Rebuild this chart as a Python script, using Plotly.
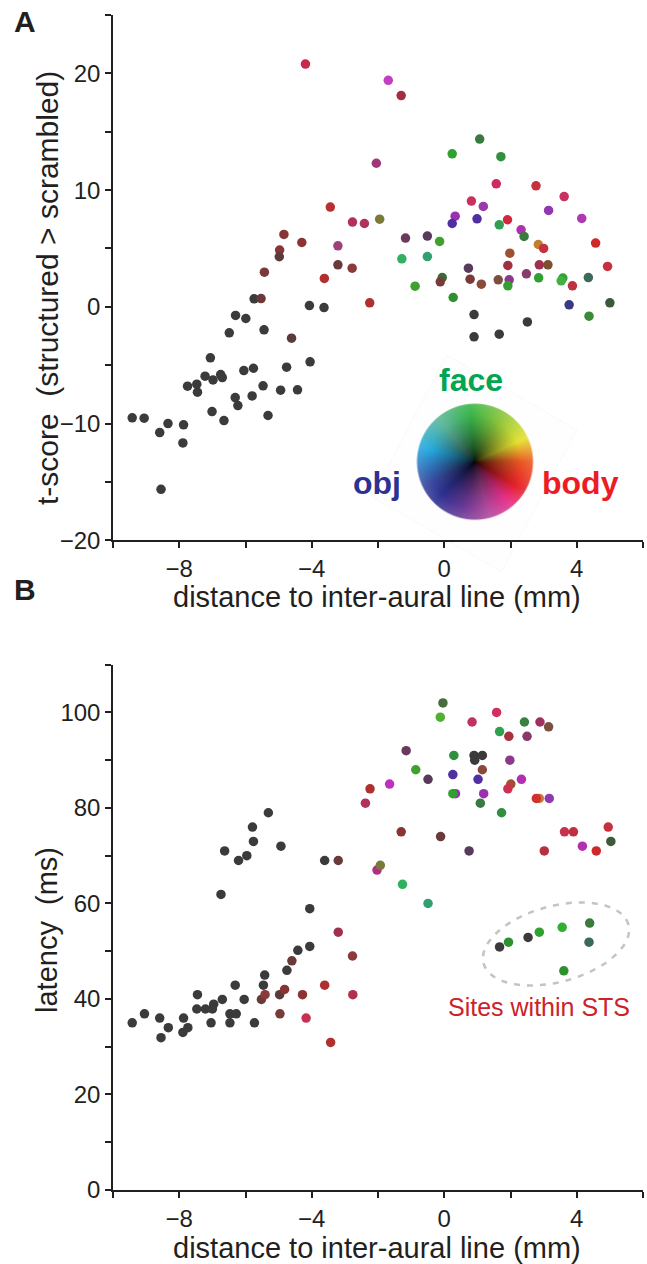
import base64, struct, zlib
import numpy as np
import plotly.graph_objects as go

# ---------------- data ----------------
DK = "#3b3b3b"
# Panel A: distance (mm) vs t-score
a_x = [-5.74, -4.07, -3.63, -6.30, -5.99, -6.49, -5.44,
       -7.06, -6.05, -5.76, -4.76, -4.05, -7.22, -6.98, -6.75, -6.70, -7.75, -7.47, -7.45,
       -5.47, -4.94, -4.43, -6.31, -5.80, -6.23, -7.01, -6.65, -5.32, -9.42, -9.06, -8.34,
       -7.87, -8.59, -7.89, -8.55, 0.90, 2.51, 0.90, 1.66,
       -4.19, -2.05, -3.44, -2.77, -2.41, -1.95, -4.84, -4.30, -4.97, -4.98, -3.21, -3.21,
       -2.78, -5.43, -3.62, -5.53, -2.25, -4.61,
       -1.69, -1.30, 1.07, 0.24, 1.71, 1.57, 2.77, 3.62, 0.82, 1.18, 3.15, 4.15, 0.33, 0.24,
       0.99, 1.91, 1.66, 2.32, 2.41, -1.17, -0.51, -0.14, 2.84, 3.00, 4.57, -1.28, -0.51,
       1.98, 1.92, 2.87, 3.13, 4.93, 0.73, 2.48, -0.06, -0.12, 0.78, 1.12, 1.63, 1.96, 1.92,
       2.85, 3.58, 3.53, 3.87, 4.35, -0.88, 0.27, 3.77, 5.00, 4.37]
a_y = [0.69, 0.11, -0.06, -0.74, -1.00, -2.23, -1.97,
       -4.37, -5.46, -5.26, -5.17, -4.71, -5.94, -6.26, -5.80, -6.06, -6.80, -6.63, -7.31,
       -6.77, -7.14, -7.11, -7.77, -7.63, -8.46, -8.97, -9.74, -9.31, -9.51, -9.54, -10.0,
       -10.11, -10.77, -11.66, -15.63, -0.66, -1.29, -2.57, -2.34,
       20.8, 12.3, 8.55, 7.26, 7.14, 7.51, 6.20, 5.51, 4.86, 4.29, 5.23, 3.60,
       3.31, 2.97, 2.43, 0.71, 0.34, -2.69,
       19.4, 18.1, 14.37, 13.11, 12.86, 10.54, 10.37, 9.45, 9.06, 8.60, 8.26, 7.57, 7.77, 7.14,
       7.54, 7.46, 7.03, 6.60, 6.03, 5.89, 6.06, 5.60, 5.34, 5.00, 5.46, 4.11, 4.31,
       4.60, 3.54, 3.60, 3.60, 3.46, 3.31, 2.83, 2.51, 2.14, 2.37, 1.94, 2.31, 2.31, 1.80,
       2.49, 2.46, 2.23, 1.80, 2.51, 1.77, 0.80, 0.17, 0.34, -0.80]
a_color = [DK] * 39 + [
    "#c8284a", "#a0357a", "#b83030", "#b0305e", "#b0305e", "#7a7a3a", "#8a3535", "#8e3333",
    "#8a3535", "#5a3a3a", "#a0407a", "#6a3a3a", "#8a3a3a", "#7a3a3a", "#b03030", "#6a3a3a",
    "#b03030", "#5a3a3a",
    "#c040c0", "#a03040", "#3a7a40", "#30a030", "#309040", "#d02860", "#c83040", "#c83060",
    "#c83060", "#9a3aaa", "#9038b0", "#b038b0", "#9a30b0", "#5030a0", "#5030a0", "#d02840",
    "#30a050", "#b030b0", "#3a7a40", "#6a3a5a", "#5a3a5a", "#40a030", "#c08030", "#c83040",
    "#d02828", "#30b060", "#30a070", "#a05030", "#a03040", "#a03050", "#7a5030", "#c83040",
    "#5a3a5a", "#8a3a6a", "#3a6a3a", "#7a3a3a", "#7a3a3a", "#8a4a3a", "#7a5040", "#8a3a8a",
    "#30a030", "#30a030", "#30a030", "#40b040", "#c03040", "#3a6a5a", "#40a030", "#309030",
    "#3a3a80", "#3a5a3a", "#3a8a3a"]

# Panel B: distance (mm) vs latency (ms)
b_x = [-5.31, -5.79, -5.76, -6.63, -6.21, -5.96, -4.93, -3.61, -6.74, -4.06, -4.42, -4.06,
       -4.75, -5.42, -5.46, -6.31, -7.45, -6.70, -6.04, -6.96, -7.47, -7.21, -7.00, -6.47,
       -6.28, -7.04, -6.47, -5.73, -9.05, -9.42, -8.59, -8.33, -8.55, -7.87, -7.89, -7.74,
       0.90, 1.15, 0.92, 1.67, 2.53,
       -3.20, -3.20, -2.24, -2.38, -1.65, -1.30, -2.03, -1.93, -1.26, -0.49, -4.60, -2.77,
       -5.52, -5.41, -4.97, -4.82, -4.28, -4.96, -3.61, -4.17, -2.76, -3.43,
       -0.04, -0.12, 1.58, 0.84, 2.42, 2.89, 3.15, 1.67, 1.95, 2.50, -1.15, 0.29, 1.98,
       -0.86, 1.15, -0.49, 0.26, 1.02, 2.33, 2.01, 1.92, 0.34, 0.26, 1.19, 1.09, 1.73,
       2.87, 2.78, 3.17, -0.11, 0.75, 3.02, 3.63, 3.90, 4.95, 4.17, 4.59, 5.03,
       1.94, 2.87, 3.56, 4.39, 4.37, 3.61]
b_y = [79.0, 76.0, 73.0, 71.0, 69.0, 70.0, 72.0, 69.0, 61.9, 58.9, 50.2, 51.0,
       46.0, 45.0, 42.9, 42.9, 40.9, 39.9, 39.9, 38.9, 37.9, 37.9, 37.9, 36.9,
       36.9, 35.0, 35.0, 35.0, 36.9, 35.0, 36.0, 34.0, 31.9, 36.0, 33.0, 34.0,
       91.0, 91.0, 90.0, 50.9, 52.9,
       69.0, 54.0, 84.0, 81.0, 85.0, 75.0, 67.0, 68.0, 64.0, 60.0, 48.0, 49.0,
       39.9, 40.9, 40.9, 42.0, 40.9, 36.9, 42.9, 36.0, 40.9, 30.9,
       102.0, 99.0, 100.0, 98.0, 98.0, 98.0, 97.0, 96.0, 95.0, 95.0, 92.0, 91.0, 90.0,
       88.0, 88.0, 86.0, 87.0, 86.0, 86.0, 85.0, 84.0, 83.0, 83.0, 83.0, 81.0, 79.0,
       82.0, 82.0, 82.0, 74.0, 71.0, 71.0, 75.0, 75.0, 76.0, 72.0, 71.0, 73.0,
       51.9, 54.0, 55.0, 55.9, 51.9, 45.9]
b_color = [DK] * 41 + [
    "#6a3a3a", "#a03050", "#b03030", "#b03060", "#c030c0", "#8a3535", "#b03080", "#7a7a3a",
    "#30b060", "#30a070", "#6a3a3a", "#8a3a3a",
    "#6a3a3a", "#8a3a3a", "#5a3a3a", "#8a3535", "#8e3333", "#7a3a3a", "#b03030", "#c83050",
    "#b03050", "#b03030",
    "#4a6a40", "#50b030", "#d03060", "#c03060", "#3a8040", "#a03060", "#7a5040", "#30a050",
    "#a83040", "#8a3a6a", "#6a3a5a", "#309040", "#8a3a8a",
    "#40a030", "#8a4a3a", "#5a3a5a", "#5030a0", "#5030a0", "#b030b0", "#a05030", "#d03050",
    "#9a30b0", "#30a030", "#9a30b0", "#3a7a40", "#309040",
    "#c08030", "#d03030", "#9038b0", "#6a3a3a", "#5a3a5a", "#b83040", "#c83050", "#c03040",
    "#c83040", "#b030b0", "#d02828", "#3a5a3a",
    "#309030", "#30a030", "#30b030", "#3a7a3a", "#3a6a5a", "#309030"]

a_ticks = [-20, -10, 0, 10, 20]
b_ticks = [0, 20, 40, 60, 80, 100]
x_ticks = [-8, -4, 0, 4]

# ---------------- geometry helpers (pixel -> paper) ----------------
W, H = 647, 1264
ML, MR, MT, MB = 113, 4, 15, 74
PW, PH = W - ML - MR, H - MT - MB


def px(x):
    return (x - ML) / PW


def py(y):
    return 1 - (y - MT) / PH


FONT = "Liberation Sans, Arial, Helvetica, sans-serif"
INK = "#231f20"

fig = go.Figure()
fig.add_trace(go.Scatter(x=a_x, y=a_y, mode="markers", xaxis="x", yaxis="y",
                         marker=dict(size=9.5, color=a_color, line=dict(width=0)),
                         showlegend=False, hoverinfo="skip"))
fig.add_trace(go.Scatter(x=b_x, y=b_y, mode="markers", xaxis="x2", yaxis="y2",
                         marker=dict(size=9.5, color=b_color, line=dict(width=0)),
                         showlegend=False, hoverinfo="skip"))

axis_common = dict(showgrid=False, zeroline=False, showline=True, linecolor=INK, linewidth=1.5,
                   ticks="outside", ticklen=6, tickwidth=1.5, tickcolor=INK,
                   tickfont=dict(family=FONT, size=24, color=INK))
dom_a = [py(540.3), 1]
dom_b = [0, py(664.7)]
fig.update_layout(
    width=W, height=H, margin=dict(l=ML, r=MR, t=MT, b=MB),
    paper_bgcolor="white", plot_bgcolor="white",
    xaxis=dict(domain=[0, 1], anchor="y", range=[-10, 6], tickvals=x_ticks,
               minor=dict(tickvals=[-10, -6, -2, 2, 6], ticks="outside", ticklen=6,
                          tickwidth=1.5, tickcolor=INK), **axis_common),
    yaxis=dict(domain=dom_a, anchor="x", range=[-20, 25], tickvals=a_ticks,
               minor=dict(tickvals=[-15, -5, 5, 15, 25], ticks="outside", ticklen=6,
                          tickwidth=1.5, tickcolor=INK), **axis_common),
    xaxis2=dict(domain=[0, 1], anchor="y2", range=[-10, 6], tickvals=x_ticks,
                minor=dict(tickvals=[-10, -6, -2, 2, 6], ticks="outside", ticklen=6,
                           tickwidth=1.5, tickcolor=INK), **axis_common),
    yaxis2=dict(domain=dom_b, anchor="x2", range=[0, 110], tickvals=b_ticks,
                minor=dict(tickvals=[10, 30, 50, 70, 90, 110], ticks="outside", ticklen=6,
                           tickwidth=1.5, tickcolor=INK), **axis_common),
)

# ---------------- colour wheel image ----------------
N = 240
yy, xx = np.mgrid[0:N, 0:N].astype(float)
cx = cy = (N - 1) / 2
R = N / 2 - 1
dx, dy = xx - cx, cy - yy
r = np.sqrt(dx ** 2 + dy ** 2) / R
ang = (np.degrees(np.arctan2(dy, dx)) + 360) % 360
keys = [(-30, "#e62229"), (0, "#ec5a24"), (25, "#e6e232"), (60, "#8cc63f"), (95, "#39b54a"),
        (130, "#5db89a"), (165, "#29abe2"), (205, "#3a4aa0"), (225, "#2e3192"),
        (255, "#6a3a98"), (285, "#b24a9e"), (310, "#e8308a"), (330, "#e62229")]
kang = np.array([k[0] for k in keys], float)
kcol = np.array([[int(c[i:i + 2], 16) for i in (1, 3, 5)] for _, c in keys], float)
a2 = np.where(ang > 330, ang - 360, ang)
rgb = np.stack([np.interp(a2, kang, kcol[:, i]) for i in range(3)], axis=-1)
f = np.clip(r / 0.8, 0, 1) ** 0.6
rgb = rgb * f[..., None]
wmix = np.clip((r - 0.8) / 0.2, 0, 1) * 0.12
rgb = rgb * (1 - wmix[..., None]) + 255 * wmix[..., None]
alpha = np.clip((1 - r) * R + 0.5, 0, 1) * 255
img = np.dstack([rgb, alpha]).clip(0, 255).astype(np.uint8)


def png_bytes(arr):
    h, w = arr.shape[:2]
    raw = b"".join(b"\x00" + arr[i].tobytes() for i in range(h))

    def chunk(tag, data):
        return (struct.pack(">I", len(data)) + tag + data
                + struct.pack(">I", zlib.crc32(tag + data) & 0xffffffff))
    ihdr = struct.pack(">IIBBBBB", w, h, 8, 6, 0, 0, 0)
    return (b"\x89PNG\r\n\x1a\n" + chunk(b"IHDR", ihdr)
            + chunk(b"IDAT", zlib.compress(raw, 9)) + chunk(b"IEND", b""))


src = "data:image/png;base64," + base64.b64encode(png_bytes(img)).decode()
wc_x, wc_y, wr = 475, 461.7, 58.5
fig.add_layout_image(dict(source=src, xref="paper", yref="paper",
                          x=px(wc_x - wr), y=py(wc_y - wr),
                          sizex=(2 * wr) / PW, sizey=(2 * wr) / PH,
                          sizing="stretch", xanchor="left", yanchor="top", layer="above"))

# faint rotated backing square
sq = [(446.7, 355), (576.7, 430), (501.7, 571.7), (371.7, 496.7)]
path = "M " + " L ".join(f"{px(a):.4f},{py(b):.4f}" for a, b in sq) + " Z"
fig.add_shape(type="path", path=path, xref="paper", yref="paper",
              fillcolor="rgba(0,0,0,0.004)", line=dict(color="rgba(0,0,0,0.03)", width=1),
              layer="below")

# dashed ellipse around STS sites
ecx, ecy, ea, eb, th = 556, 944, 75, 38, np.radians(15)
t = np.linspace(0, 2 * np.pi, 73)
ex = ecx + ea * np.cos(t) * np.cos(th) - eb * np.sin(t) * np.sin(th)
ey = ecy - (ea * np.cos(t) * np.sin(th) + eb * np.sin(t) * np.cos(th))
epath = "M " + " L ".join(f"{px(a):.4f},{py(b):.4f}" for a, b in zip(ex, ey)) + " Z"
fig.add_shape(type="path", path=epath, xref="paper", yref="paper",
              line=dict(color="#c4c4c4", width=2.5, dash="6px,7px"))

# ---------------- text ----------------
def ann(text, x, y, size, color=INK, bold=False, angle=0):
    fig.add_annotation(text=f"<b>{text}</b>" if bold else text, x=px(x), y=py(y),
                       xref="paper", yref="paper", showarrow=False, textangle=angle,
                       xanchor="center", yanchor="middle",
                       font=dict(family=FONT, size=size, color=color))


ann("A", 25, 22, 30, bold=True)
ann("B", 25, 590, 30, bold=True)
ann("distance to inter-aural line (mm)", 377, 597, 29)
ann("distance to inter-aural line (mm)", 377, 1248, 29)
ann("t-score\u00a0\u00a0(structured > scrambled)", 47, 288, 30, angle=-90)
ann("latency\u00a0\u00a0(ms)", 47, 930, 29, angle=-90)
ann("face", 471, 380, 32, color="#00a651", bold=True)
ann("obj", 377, 483, 32, color="#2e3192", bold=True)
ann("body", 580, 483, 32, color="#ed1c24", bold=True)
ann("Sites within STS", 539, 1007, 25, color="#cc2229")

fig.write_html("out.html")
